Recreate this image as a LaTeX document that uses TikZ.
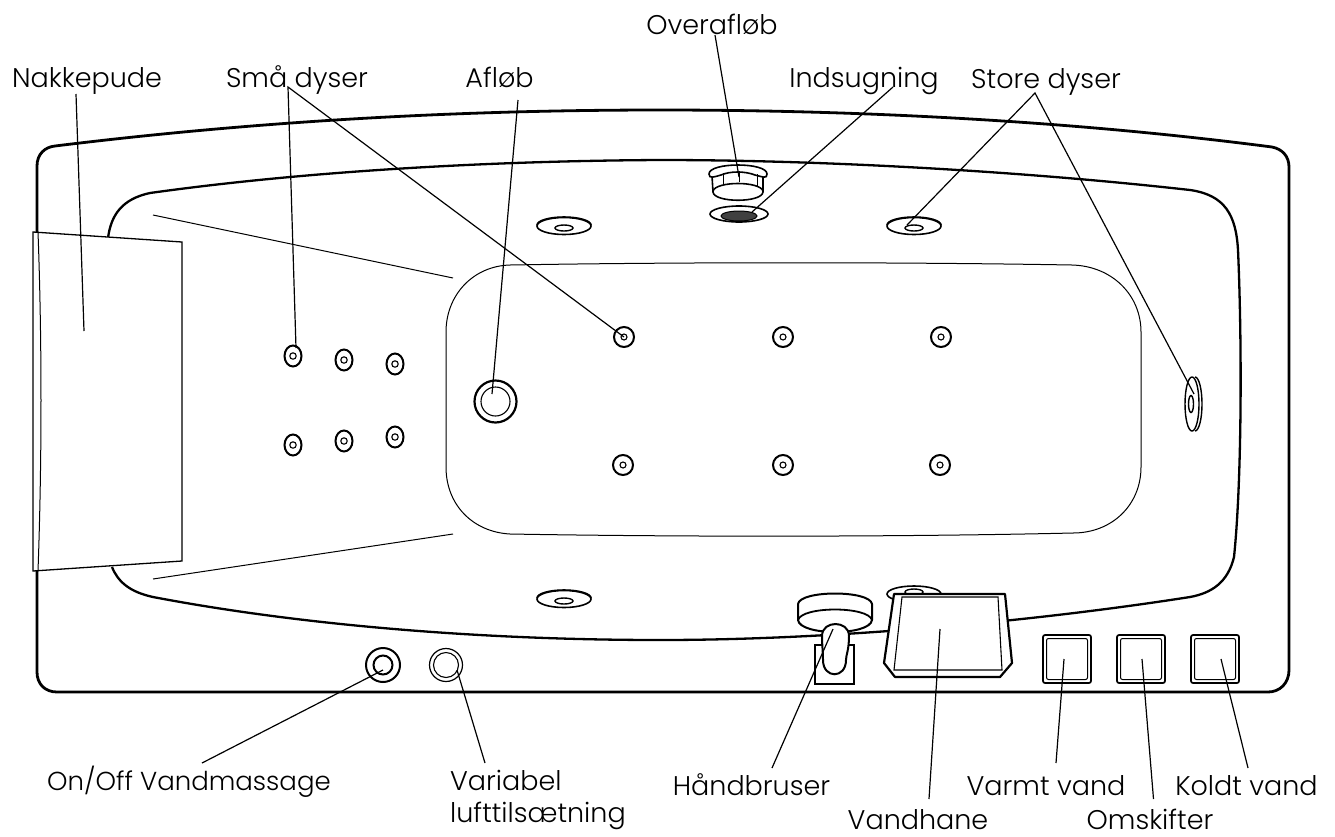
\documentclass[tikz,border=0pt]{standalone}
\usepackage{fontspec}
\setmainfont{Poppins}[UprightFont=* Light]
\tikzset{
  heavy/.style={line width=2.8pt,line join=round,line cap=round},
  thin/.style={line width=1pt},
  leader/.style={line width=1.2pt},
  lab/.style={anchor=base,inner sep=0pt,font=\fontsize{27}{32}\selectfont},
}
\begin{document}
\begin{tikzpicture}[x=1pt,y=-1pt]
\useasboundingbox (0,0) rectangle (1335,836);
% outer rim
\draw[heavy] (37,232) -- (37,166) .. controls (37,154) and (45,147) .. (55,146)
  .. controls (250,122) and (450,110) .. (660,110)
  .. controls (870,110) and (1080,122) .. (1272,147)
  .. controls (1282,149) and (1289,156) .. (1289,167)
  -- (1289,670) .. controls (1289,683) and (1280,692) .. (1268,692)
  -- (57,692) .. controls (45,692) and (37,684) .. (37,672) -- (37,571);
% tub
\draw[line width=2.3pt] (108,238) .. controls (111,215) and (122,199) .. (150,193)
  .. controls (300,172) and (480,161) .. (660,160)
  .. controls (830,160) and (1030,172) .. (1190,190)
  .. controls (1225,195) and (1236,215) .. (1238,250)
  .. controls (1242,340) and (1242,480) .. (1234,557)
  .. controls (1228,582) and (1212,593) .. (1190,597)
  .. controls (1030,622) and (830,640) .. (660,640)
  .. controls (480,640) and (300,625) .. (153,597)
  .. controls (130,592) and (118,582) .. (112,567);
% basin
\draw[thin] (510,265) .. controls (680,262) and (900,262) .. (1072,265)
  .. controls (1112,266) and (1141,295) .. (1141,332)
  -- (1141,467) .. controls (1141,505) and (1112,533) .. (1073,533)
  .. controls (900,537) and (680,537) .. (510,534)
  .. controls (473,532) and (446,505) .. (446,467)
  -- (446,332) .. controls (446,295) and (473,266) .. (510,265) -- cycle;
\draw[thin] (153,215) -- (453,278);
\draw[thin] (153,579) -- (453,534);
% pillow
\draw[fill=white,line width=1.3pt] (33,232) -- (182,242) -- (182,561) -- (33,571) -- cycle;
\draw[thin] (38,232) .. controls (42,340) and (42,460) .. (38,571);
% small jets
\foreach \x/\y in {293/356,344/360,395/364,293/445,344/441,395/437}{
  \draw[line width=2pt] (\x,\y) ellipse [x radius=8.5,y radius=10.5];
  \draw[line width=1.1pt] (\x,\y) circle [radius=3.2];
}
\foreach \x/\y in {624/337,783/337,941/337,623/465,783/465,940/465}{
  \draw[line width=2pt] (\x,\y) circle [radius=10];
  \draw[line width=1.1pt] (\x,\y) circle [radius=3];
}
% drain
\draw[line width=2.2pt] (495.5,401.5) circle [radius=21];
\draw[line width=1.1pt] (495.5,401.5) circle [radius=14.5];
% discs
\foreach \x/\y in {564/225,914/225,564/598}{
  \draw[line width=1.6pt] (\x,\y+1) ellipse [x radius=27,y radius=8.5];
  \draw[line width=1.6pt] (\x-27,\y) arc [start angle=180,end angle=360,x radius=27,y radius=8];
  \draw[line width=1.4pt] (\x,\y+3) ellipse [x radius=9,y radius=3];
}
\draw[line width=1.6pt] (914,594) ellipse [x radius=27,y radius=8];
\draw[line width=1.4pt] (914,592) ellipse [x radius=9,y radius=3];
% overflow
\draw[line width=1.6pt] (712,176) -- (713,192) .. controls (714,203) and (762,203) .. (763,192) -- (763,176);
\draw[line width=1.6pt,fill=white] (709,174) .. controls (709,162) and (767,162) .. (767,174)
  .. controls (767,179) and (763,177) .. (755,175) .. controls (745,171) and (730,171) .. (721,175)
  .. controls (714,177) and (709,179) .. (709,174) -- cycle;
\draw[line width=1pt] (723,173) -- (723,184) (739,171) -- (739,182) (757,174) -- (757,186);
\draw[line width=1.6pt] (713,191) .. controls (716,181) and (760,181) .. (763,191);
% intake
\draw[line width=1.6pt] (739,214) ellipse [x radius=29,y radius=8];
\draw[fill=black!75,line width=1pt] (739,216) ellipse [x radius=18,y radius=5];
% big right jet
\draw[line width=1.4pt] (1192,404) ellipse [x radius=7,y radius=27];
\draw[line width=1.4pt] (1195,377) arc [start angle=-90,end angle=90,x radius=7,y radius=27];
\draw[line width=1.4pt] (1191,404) ellipse [x radius=2.5,y radius=8.5];
% hand shower
\draw[line width=1.8pt,fill=white] (815,645) rectangle (854,684);
\draw[line width=2pt,fill=white] (798,604) .. controls (800,590) and (870,590) .. (872,604)
  -- (872,620) .. controls (870,636) and (800,636) .. (798,620) -- cycle;
\draw[line width=1.8pt] (798,620) .. controls (802,606) and (868,606) .. (872,620);
\draw[line width=2pt,fill=white] (822,636) .. controls (822,620) and (849,620) .. (849,636)
  .. controls (849,650) and (846,655) .. (846,660)
  .. controls (846,679) and (823,679) .. (823,660)
  .. controls (823,652) and (822,645) .. (822,636) -- cycle;
% tap
\draw[line width=2.2pt,fill=white,line join=round] (894,594) -- (1005,594) -- (1012,663) -- (1000,677) -- (895,677) -- (884,663) -- cycle;
\draw[line width=1.1pt] (902,597) -- (998,597) -- (1002,670) -- (894,670) -- cycle;
% buttons
\foreach \x in {1043,1117,1191}{
  \draw[line width=1.7pt,rounded corners=2pt] (\x,635) rectangle (\x+48,683);
  \draw[line width=1pt,rounded corners=2pt] (\x+3.5,638.5) rectangle (\x+44.5,679.5);
}
% knobs
\node[circle,draw,line width=2pt,inner sep=0pt,minimum size=34pt] (massage) at (383,665) {};
\draw[line width=2pt] (383,665) circle [radius=9.5];
\node[circle,draw,line width=1.2pt,inner sep=0pt,minimum size=33pt] (variable) at (446,665) {};
\draw[line width=1.1pt] (446,665) circle [radius=12.5];
% labels
\node[lab] (nakke) at (87,87) {Nakkepude};
\node[lab] (smaa) at (297,87) {Små dyser};
\node[lab] (aflob) at (499.5,87) {Afløb};
\node[lab] (over) at (712,34) {Overafløb};
\node[lab] (ind) at (864,87) {Indsugning};
\node[lab] (store) at (1046,88) {Store dyser};
\node[lab,font=\fontsize{26}{32}\selectfont] (onoff) at (189,790) {On/Off Vandmassage};
\node[lab,anchor=base west] (var) at (450,790) {Variabel};
\node[lab,anchor=base west] (luft) at (450,822) {lufttilsætning};
\node[lab] (haand) at (751.5,795.5) {Håndbruser};
\node[lab] (hane) at (918,829) {Vandhane};
\node[lab] (varmt) at (1046,795) {Varmt vand};
\node[lab] (omsk) at (1150,829) {Omskifter};
\node[lab] (koldt) at (1246.5,795) {Koldt vand};
% leader ends
\coordinate (sN) at (76,94);
\coordinate (pN) at (84,331);
\coordinate (sS) at (288,87);
\coordinate (pS1) at (296,348);
\coordinate (pS2) at (624,337);
\coordinate (sA) at (518,100);
\coordinate (pA) at (492,394);
\coordinate (sO) at (715,35);
\coordinate (pO) at (739,177);
\coordinate (sI) at (893,87);
\coordinate (pI) at (752,212);
\coordinate (sD) at (1035,93);
\coordinate (pD1) at (907,225);
\coordinate (pD2) at (1194,394);
\coordinate (sM) at (202,763);
\coordinate (pM) at (383,670);
\coordinate (sV) at (485,763);
\coordinate (pV) at (457,670);
\coordinate (sH) at (772,768);
\coordinate (pH) at (833,629);
\coordinate (sT) at (929,799);
\coordinate (pT) at (940,629);
\coordinate (sW) at (1056,763);
\coordinate (pW) at (1064,659);
\coordinate (sK) at (1153.5,799);
\coordinate (pK) at (1142,659);
\coordinate (sC) at (1248,768);
\coordinate (pC) at (1221,659);
% leaders
\draw[leader] (sN) -- (pN);
\draw[leader] (pS1) -- (sS) -- (pS2);
\draw[leader] (sA) -- (pA);
\draw[leader] (sO) -- (pO);
\draw[leader] (sI) -- (pI);
\draw[leader] (pD1) -- (sD) -- (pD2);
\draw[leader] (sM) -- (pM);
\draw[leader] (sV) -- (pV);
\draw[leader] (sH) -- (pH);
\draw[leader] (sT) -- (pT);
\draw[leader] (sW) -- (pW);
\draw[leader] (sK) -- (pK);
\draw[leader] (sC) -- (pC);
\end{tikzpicture}
\end{document}
